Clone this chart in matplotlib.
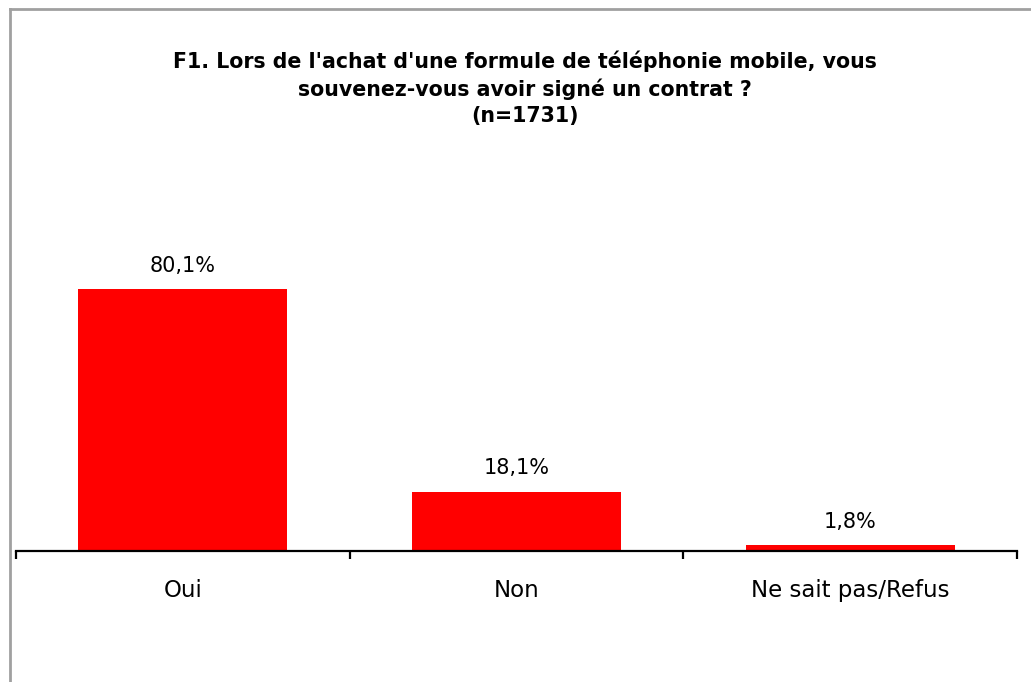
import matplotlib
matplotlib.use("Agg")
import matplotlib.pyplot as plt
from matplotlib.lines import Line2D

categories = ["Oui", "Non", "Ne sait pas/Refus"]
values = [80.1, 18.1, 1.8]
labels = ["80,1%", "18,1%", "1,8%"]
title = "F1. Lors de l'achat d'une formule de téléphonie mobile, vous\nsouvenez-vous avoir signé un contrat ?\n(n=1731)"

W, H = 1031, 682
fig = plt.figure(figsize=(W / 100, H / 100), dpi=100)
fig.patch.set_facecolor("white")

# figure frame (top and left visible)
fig.add_artist(Line2D([9.5 / W, 9.5 / W], [0, 1 - 8.5 / H], transform=fig.transFigure, color="#a0a0a0", lw=2))
fig.add_artist(Line2D([9.5 / W, 1], [1 - 8.5 / H, 1 - 8.5 / H], transform=fig.transFigure, color="#a0a0a0", lw=2))

ax = fig.add_axes([16 / W, 131 / H, 1001 / W, 327 / H])
x = list(range(len(categories)))
ax.bar(x, values, width=0.626, color="#ff0000", zorder=2)
ax.set_xlim(-0.5, len(categories) - 0.5)
ax.set_ylim(0, 100)

for xi, v, lab in zip(x, values, labels):
    ax.annotate(lab, (xi, v), xytext=(0, 12.5), textcoords="offset points",
                ha="center", va="baseline", fontsize=15, family="DejaVu Sans")

for s in ["top", "right", "left"]:
    ax.spines[s].set_visible(False)
ax.spines["bottom"].set_linewidth(1.6)
ax.set_yticks([])
ax.set_xticks([i - 0.5 for i in range(len(categories) + 1)], minor=False)
ax.set_xticklabels([])
ax.tick_params(axis="x", which="major", direction="out", length=6, width=1.6)
ax.set_xticks(x, minor=True)
ax.set_xticklabels(categories, minor=True, fontsize=16.5, family="DejaVu Sans")
ax.tick_params(axis="x", which="minor", length=0, pad=20.5)

fig.text(525 / W, 1 - 50 / H, title, ha="center", va="top", fontsize=14.8,
         fontweight="bold", family="DejaVu Sans", linespacing=1.39)

fig.savefig("out.png", dpi=100)
